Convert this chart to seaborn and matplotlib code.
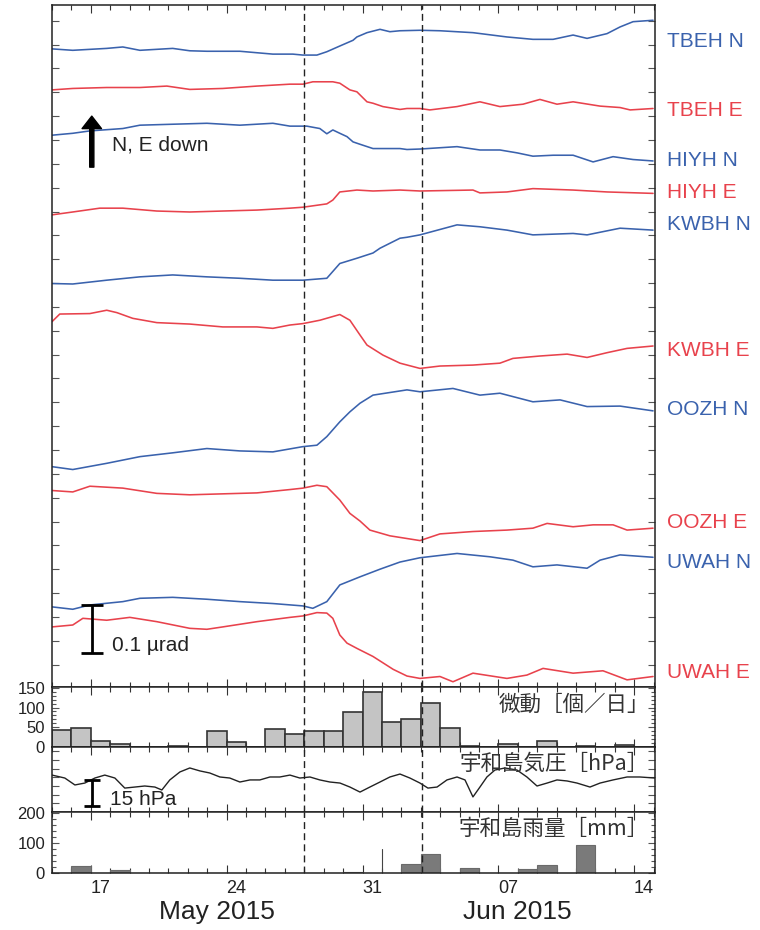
import numpy as np
import pandas as pd
import matplotlib
matplotlib.use("Agg")
import matplotlib.pyplot as plt
import matplotlib.transforms as mtransforms
from matplotlib.ticker import MultipleLocator, FixedLocator
import seaborn as sns

sns.set_theme(style="white")
plt.rcParams['font.family'] = ['Liberation Sans', 'Noto Sans CJK JP', 'DejaVu Sans']

# ---------------- data (x = days since 2015-05-15 00:00) ----------------
# tilt traces, nrad (arbitrary stacking offsets)
tbeh_n_day = [0, 1.07, 2.82, 3.65, 4.53, 6.22, 7.10, 7.98, 9.68, 11.38, 12.41, 12.93, 13.65, 14.16, 14.83, 15.51, 15.71,
              16.23, 16.90, 17.41, 17.93, 18.96, 19.99, 21.69, 23.44, 24.78, 25.82, 26.85, 27.57, 28.60, 29.27, 29.94, 30.97]
tbeh_n_val = [1338, 1335, 1339, 1342, 1335, 1339, 1334, 1333, 1333, 1327, 1327, 1325, 1325, 1332, 1344, 1356, 1363,
              1372, 1379, 1374, 1376, 1377, 1376, 1372, 1363, 1358, 1358, 1367, 1360, 1370, 1384, 1395, 1398]

tbeh_e_day = [0, 1.07, 2.82, 4.53, 5.92, 7.10, 8.80, 10.56, 12.26, 12.93, 13.44, 14.47, 14.83, 15.35, 15.71, 16.23, 16.54,
              17.05, 17.93, 18.29, 18.96, 19.47, 20.87, 22.05, 23.08, 24.27, 25.14, 26.02, 26.85, 28.24, 29.27, 29.79, 30.97]
tbeh_e_val = [1252, 1255, 1257, 1257, 1260, 1253, 1255, 1260, 1264, 1264, 1269, 1269, 1266, 1252, 1248, 1227, 1224,
              1217, 1211, 1213, 1213, 1210, 1217, 1227, 1217, 1222, 1232, 1222, 1227, 1218, 1215, 1210, 1213]

hiyh_n_day = [0, 1.07, 1.95, 3.65, 4.53, 6.22, 7.98, 9.68, 11.38, 12.26, 13.13, 13.80, 14.16, 14.47, 14.83, 15.20, 15.51,
              15.87, 16.54, 17.93, 18.29, 18.96, 20.87, 22.05, 23.08, 23.96, 24.78, 25.82, 26.85, 27.88, 28.91, 29.94, 30.97]
hiyh_n_val = [1157, 1161, 1166, 1171, 1178, 1180, 1182, 1178, 1182, 1176, 1176, 1171, 1160, 1168, 1161, 1154, 1143,
              1138, 1129, 1129, 1127, 1128, 1133, 1126, 1126, 1120, 1113, 1115, 1115, 1101, 1112, 1106, 1103]

hiyh_e_day = [0, 1.07, 2.46, 3.65, 5.40, 7.10, 8.80, 10.56, 12.26, 12.93, 14.16, 14.47, 14.83, 15.71, 16.54, 17.93,
              18.96, 21.69, 22.05, 23.44, 24.78, 26.85, 28.60, 30.97]
hiyh_e_val = [990, 996, 1004, 1004, 998, 996, 998, 1000, 1004, 1006, 1013, 1021, 1038, 1042, 1040, 1042,
              1040, 1042, 1036, 1038, 1045, 1042, 1038, 1035]

kwbh_n_day = [0, 1.07, 2.82, 4.53, 6.22, 7.98, 9.68, 11.38, 12.93, 14.16, 14.83, 15.71, 16.54, 16.90, 17.93, 18.29,
              18.96, 20.87, 22.05, 23.44, 24.78, 26.85, 27.57, 29.27, 30.97]
kwbh_n_val = [846, 845, 853, 860, 864, 860, 857, 853, 853, 857, 888, 899, 910, 920, 941, 943,
              948, 969, 965, 958, 948, 951, 948, 962, 958]

kwbh_e_day = [0, 0.40, 1.95, 2.82, 3.34, 4.16, 5.40, 7.10, 8.80, 10.56, 11.38, 12.26, 12.93, 13.80, 14.83, 15.35,
              15.87, 16.23, 17.05, 17.93, 18.96, 19.99, 21.69, 23.08, 23.75, 25.14, 26.54, 27.57, 28.60, 29.63, 30.97]
kwbh_e_val = [766, 782, 783, 790, 785, 773, 764, 761, 755, 755, 752, 759, 762, 769, 781, 769,
              738, 717, 696, 679, 668, 673, 675, 679, 689, 694, 698, 691, 701, 710, 715]

oozh_n_day = [0, 1.07, 2.82, 4.53, 6.22, 7.98, 9.68, 11.38, 12.93, 13.65, 14.16, 14.83, 15.35, 15.87, 16.54, 18.29,
              18.96, 20.66, 22.05, 23.08, 24.78, 26.18, 27.57, 29.27, 30.97]
oozh_n_val = [462, 456, 469, 483, 491, 500, 495, 493, 504, 507, 525, 556, 577, 595, 612, 623,
              619, 626, 612, 616, 598, 602, 588, 589, 579]

oozh_e_day = [0, 1.07, 1.95, 3.65, 5.40, 7.10, 8.80, 10.56, 12.26, 12.93, 13.65, 14.16, 14.83, 15.35, 15.87, 16.38,
              17.41, 18.96, 19.99, 21.69, 23.44, 24.78, 25.51, 26.85, 27.88, 28.91, 29.63, 30.97]
oozh_e_val = [412, 409, 421, 417, 406, 403, 405, 407, 414, 417, 423, 420, 392, 364, 348, 329,
              317, 307, 321, 326, 329, 333, 343, 336, 340, 340, 329, 333]

uwah_n_day = [0, 1.07, 1.95, 3.65, 4.53, 6.22, 7.98, 9.68, 11.38, 12.93, 13.44, 14.16, 14.83, 15.87, 16.90, 17.93,
              18.96, 20.87, 22.57, 23.75, 24.78, 26.02, 27.57, 28.24, 29.27, 30.97]
uwah_n_val = [168, 163, 172, 179, 186, 188, 184, 179, 175, 170, 165, 179, 214, 231, 247, 262,
              271, 280, 273, 266, 252, 256, 249, 266, 277, 272]

uwah_e_day = [0, 1.07, 1.59, 2.82, 4.01, 5.40, 7.10, 7.98, 8.80, 10.56, 12.26, 12.93, 13.65, 14.16, 14.47, 14.83,
              15.20, 15.71, 16.54, 17.58, 18.29, 18.96, 19.99, 20.66, 21.69, 23.44, 24.47, 25.30, 26.85, 28.39, 29.63, 30.97]
uwah_e_val = [126, 130, 144, 140, 146, 137, 123, 121, 126, 137, 146, 149, 156, 155, 144, 109,
              92, 81, 64, 37, 23, 18, 22, 11, 29, 18, 25, 39, 29, 34, 15, 22]

station_names = ["TBEH N", "TBEH E", "HIYH N", "HIYH E", "KWBH N", "KWBH E", "OOZH N", "OOZH E", "UWAH N", "UWAH E"]

# tremor counts per day (day index since May 15)
tremor_day = [0, 1, 2, 3, 6, 8, 9, 11, 12, 13, 14, 15, 16, 17, 18, 19, 20, 21, 23, 25, 27, 29]
tremor_count = [44, 48, 15, 7, 3, 40, 12, 45, 32, 40, 40, 89, 140, 64, 72, 112, 47, 3, 8, 15, 3, 6]

# Uwajima pressure [hPa]
pres_day = [0, 0.66, 1.18, 1.69, 2.21, 2.72, 3.24, 3.75, 4.27, 4.78, 5.30, 5.66, 6.07, 6.59, 7.10, 7.62, 8.13, 8.65,
            9.16, 9.68, 10.20, 10.71, 11.23, 11.74, 12.26, 12.77, 13.29, 13.80, 14.32, 14.84, 15.35, 15.87, 16.38,
            16.90, 17.41, 17.93, 18.44, 18.96, 19.37, 19.84, 20.35, 20.87, 21.28, 21.69, 22.05, 22.41, 22.82, 23.34,
            23.96, 24.47, 24.99, 25.51, 26.02, 26.54, 27.05, 27.72, 28.24, 28.91, 29.63, 30.29, 31.06]
pres_hpa = [1011.3, 1009.6, 1005.6, 1006.7, 1009.6, 1011.3, 1009.6, 1003.8, 1004.4, 1005.0, 1004.4, 1002.7, 1008.5,
            1013.1, 1015.4, 1013.7, 1012.5, 1010.2, 1009.6, 1007.3, 1008.5, 1008.5, 1010.2, 1010.2, 1011.3, 1009.6,
            1010.2, 1008.5, 1007.3, 1006.7, 1004.4, 1001.5, 1004.4, 1007.3, 1010.2, 1011.9, 1009.6, 1006.7, 1003.8,
            1004.4, 1008.5, 1010.2, 1008.5, 998.7, 1004.4, 1010.2, 1014.2, 1015.4, 1014.2, 1010.2, 1005.0, 1006.7,
            1008.5, 1007.9, 1006.7, 1004.4, 1006.7, 1008.5, 1010.2, 1010.2, 1009.6]

# Uwajima daily rainfall [mm]
rain_day = [1, 3, 15, 18, 19, 21, 24, 25, 27]
rain_mm = [23, 11, 3, 31, 63, 17, 15, 26, 94]

event_days = [13.0, 19.05]          # dashed lines (May 28, Jun 3)
date_labels = ["17", "24", "31", "07", "14"]
date_label_days = [2, 9, 16, 23, 30]
month_labels = ["May 2015", "Jun 2015"]

# ---------------- styling ----------------
BLUE = "#3a62ad"
RED = "#e8424c"
colors = [BLUE, RED] * 5
label_y = [1354, 1208, 1105, 1036, 969, 706, 581, 344, 262, 31]
traces = [(tbeh_n_day, tbeh_n_val), (tbeh_e_day, tbeh_e_val), (hiyh_n_day, hiyh_n_val), (hiyh_e_day, hiyh_e_val),
          (kwbh_n_day, kwbh_n_val), (kwbh_e_day, kwbh_e_val), (oozh_n_day, oozh_n_val), (oozh_e_day, oozh_e_val),
          (uwah_n_day, uwah_n_val), (uwah_e_day, uwah_e_val)]

tremor_df = pd.DataFrame({"day": np.array(tremor_day, dtype=float) + 0.5,
                          "count": np.array(tremor_count, dtype=float)})
rain_df = pd.DataFrame({"day": np.array(rain_day, dtype=float) + 0.5,
                        "mm": np.array(rain_mm, dtype=float)})

XMAX = 31.07
W, H = 760, 930
fig = plt.figure(figsize=(W / 100, H / 100), dpi=100)


def add_ax(top, bottom, left=52, right=655):
    return fig.add_axes([left / W, 1 - bottom / H, (right - left) / W, (bottom - top) / H])


ax_main = add_ax(5, 687)
ax_bar = add_ax(687, 747)
ax_p = add_ax(747, 812)
ax_r = add_ax(812, 873)
axes = [ax_main, ax_bar, ax_p, ax_r]

# tilt traces
for (d, v), c in zip(traces, colors):
    sns.lineplot(x=d, y=v, ax=ax_main, color=c, linewidth=1.15, estimator=None)
ax_main.set_ylim(0, 1430)
tr = mtransforms.blended_transform_factory(ax_main.transAxes, ax_main.transData)
for name, y, c in zip(station_names, label_y, colors):
    ax_main.text(1.02, y, name, color=c, fontsize=15, va="center", ha="left", transform=tr)

# arrow and scale bar
ax_main.annotate("", xy=(2.05, 1197), xytext=(2.05, 1090),
                 arrowprops=dict(width=3, headwidth=14, headlength=9, color="black"))
ax_main.text(3.1, 1136, "N, E down", fontsize=15, va="center", ha="left", color="#222222")
ax_main.errorbar([2.05], [122], yerr=[50], color="black", elinewidth=2, capsize=8, capthick=2)
ax_main.text(3.1, 88, "0.1 µrad", fontsize=15, va="center", ha="left", color="#222222")

# tremor bars
sns.histplot(data=tremor_df, x="day", weights="count", bins=31, binrange=(0, 31), ax=ax_bar,
             color="#c4c4c4", edgecolor="#333333", linewidth=1.2, alpha=1)
ax_bar.set_ylim(0, 152)
ax_bar.set_yticks([0, 50, 100, 150])
ax_bar.yaxis.set_minor_locator(MultipleLocator(10))
ax_bar.text(0.99, 0.70, "微動［個／日」", transform=ax_bar.transAxes, ha="right", va="center",
            fontsize=15.5, family=["Noto Sans CJK JP"], color="#333333")

# pressure
sns.lineplot(x=pres_day, y=pres_hpa, ax=ax_p, color="#222222", linewidth=1.0, estimator=None)
ax_p.set_ylim(990, 1027.5)
ax_p.yaxis.set_major_locator(MultipleLocator(5))
ax_p.set_yticklabels([])
ax_p.errorbar([2.05], [1001], yerr=[7.5], color="black", elinewidth=2, capsize=5.5, capthick=2)
ax_p.text(3.0, 997.5, "15 hPa", fontsize=15, va="center", ha="left", color="#222222")
ax_p.text(0.99, 0.74, "宇和島気圧［hPa］", transform=ax_p.transAxes, ha="right", va="center",
          fontsize=15.5, family=["Noto Sans CJK JP"], color="#333333")

# rain
sns.histplot(data=rain_df, x="day", weights="mm", bins=31, binrange=(0, 31), ax=ax_r,
             color="#7a7a7a", edgecolor="#6a6a6a", linewidth=0.8, alpha=1)
ax_r.set_ylim(0, 205)
ax_r.set_yticks([0, 100, 200])
ax_r.yaxis.set_minor_locator(MultipleLocator(20))
ax_r.axvline(16.98, ymin=0, ymax=0.39, color="#444444", linewidth=0.8)
ax_r.text(0.99, 0.72, "宇和島雨量［mm］", transform=ax_r.transAxes, ha="right", va="center",
          fontsize=15.5, family=["Noto Sans CJK JP"], color="#333333")

# common axis styling
for ax in axes:
    ax.set_xlim(0, XMAX)
    ax.set_xlabel("")
    ax.set_ylabel("")
    ax.xaxis.set_major_locator(FixedLocator(date_label_days))
    ax.xaxis.set_minor_locator(MultipleLocator(1))
    ax.tick_params(axis="x", which="major", direction="in", length=6, width=0.8, top=True, bottom=True,
                   labelbottom=False, color="#333333")
    ax.tick_params(axis="x", which="minor", direction="in", length=3.5, width=0.8, top=True, bottom=True,
                   color="#333333")
    ax.tick_params(axis="y", which="both", direction="in", left=True, right=True, width=0.8, color="#555555",
                   labelsize=12, pad=5, labelcolor="#222222")
    ax.tick_params(axis="y", which="major", length=5)
    ax.tick_params(axis="y", which="minor", length=3)
    for s in ax.spines.values():
        s.set_color("#222222")
        s.set_linewidth(1.1)
    for d in event_days:
        ax.axvline(d, color="#222222", linewidth=1.0, dashes=(5, 3))

ax_main.yaxis.set_major_locator(MultipleLocator(50, offset=47))
ax_main.set_yticklabels([])

# date labels
btr = mtransforms.blended_transform_factory(ax_r.transData, fig.transFigure)
for d, lab in zip(date_label_days, date_labels):
    ax_r.text(d + 0.5, 1 - 888 / H, lab, transform=btr, ha="center", va="center", fontsize=13, color="#222222")
for d, lab in zip([8.5, 24.0], month_labels):
    ax_r.text(d, 1 - 912 / H, lab, transform=btr, ha="center", va="center", fontsize=19, color="#222222")

fig.savefig("out.png", dpi=100)
